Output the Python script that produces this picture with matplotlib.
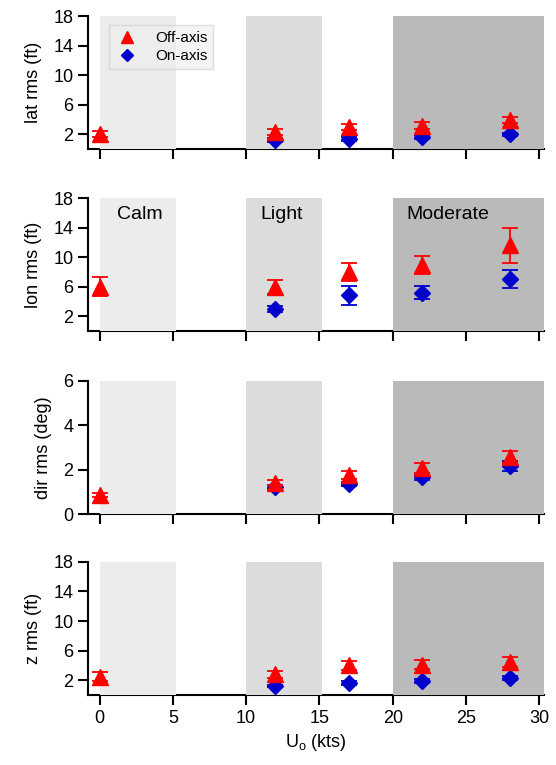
import matplotlib.pyplot as plt
from matplotlib.lines import Line2D

# wind speed (kts)
u0 = [0, 12, 17, 22, 28]

# lat rms (ft)
lat_off = [2.0, 2.3, 3.0, 3.2, 3.9]
lat_off_err = [0.4, 0.4, 0.4, 0.45, 0.4]
lat_on = [None, 1.2, 1.35, 1.6, 2.0]
lat_on_err = [0, 0.25, 0.25, 0.25, 0.25]

# lon rms (ft)
lon_off = [6.0, 6.0, 8.0, 9.0, 11.6]
lon_off_err = [1.3, 0.95, 1.2, 1.2, 2.4]
lon_on = [None, 2.95, 4.85, 5.2, 7.1]
lon_on_err = [0, 0.4, 1.3, 0.9, 1.2]

# dir rms (deg)
dir_off = [0.86, 1.41, 1.76, 2.06, 2.58]
dir_off_err = [0.1, 0.12, 0.2, 0.22, 0.28]
dir_on = [None, 1.23, 1.35, 1.65, 2.16]
dir_on_err = [0, 0.08, 0.1, 0.1, 0.22]

# z rms (ft)
z_off = [2.5, 2.8, 4.0, 4.1, 4.45]
z_off_err = [0.6, 0.5, 0.6, 0.6, 0.7]
z_on = [None, 1.2, 1.65, 1.87, 2.3]
z_on_err = [0, 0.15, 0.25, 0.25, 0.25]

panels = [
    ('lat rms (ft)', lat_off, lat_off_err, lat_on, lat_on_err, 18, [2, 6, 10, 14, 18]),
    ('lon rms (ft)', lon_off, lon_off_err, lon_on, lon_on_err, 18, [2, 6, 10, 14, 18]),
    ('dir rms (deg)', dir_off, dir_off_err, dir_on, dir_on_err, 6, [0, 2, 4, 6]),
    ('z rms (ft)', z_off, z_off_err, z_on, z_on_err, 18, [2, 6, 10, 14, 18]),
]

regions = [(0, 5.2, '#ececec'), (10, 15.2, '#dcdcdc'), (20, 30.3, '#bababa')]
region_labels = [('Calm', 1.2), ('Light', 11.0), ('Moderate', 20.9)]

plt.rcParams['font.family'] = ['Liberation Sans', 'DejaVu Sans']

fig = plt.figure(figsize=(5.56, 7.65), dpi=100)
bottoms = [0.805, 0.567, 0.328, 0.0915]
red = '#ff0000'
blue = '#0000cc'

for i, (lab, off, off_err, on, on_err, ymax, yt) in enumerate(panels):
    ax = fig.add_axes([0.158, bottoms[i], 0.820, 0.174])
    for x0, x1, c in regions:
        ax.axvspan(x0, x1, color=c, lw=0, zorder=3)
    ax.errorbar(u0, off, yerr=off_err, fmt='^', color=red, ms=11, capsize=6,
                elinewidth=1.3, capthick=1.3, zorder=5)
    xs = [x for x, v in zip(u0, on) if v is not None]
    ys = [v for v in on if v is not None]
    es = [e for e, v in zip(on_err, on) if v is not None]
    ax.errorbar(xs, ys, yerr=es, fmt='D', color=blue, ms=8, capsize=6,
                elinewidth=1.3, capthick=1.3, zorder=4)
    ax.set_xlim(-0.8, 30.3)
    ax.set_ylim(0, ymax)
    ax.set_yticks(yt)
    ax.set_xticks([0, 5, 10, 15, 20, 25, 30])
    ax.spines['top'].set_visible(False)
    ax.spines['right'].set_visible(False)
    ax.spines['left'].set_linewidth(1.5)
    ax.spines['bottom'].set_linewidth(1.5)
    ax.tick_params(direction='out', length=7, width=1.5, labelsize=13)
    ax.set_ylabel(lab, fontsize=13, labelpad=8)
    if i < 3:
        ax.tick_params(axis='x', labelbottom=False)
    else:
        ax.set_xlabel('U$_\\mathregular{o}$ (kts)', fontsize=13)
    if i == 0:
        handles = [Line2D([], [], ls='none', marker='^', color=red, ms=9, label='Off-axis'),
                   Line2D([], [], ls='none', marker='D', color=blue, ms=6, label='On-axis')]
        leg = ax.legend(handles=handles, loc='upper left', bbox_to_anchor=(0.03, 0.99),
                        fontsize=11, fancybox=False, framealpha=0.6, edgecolor='#cccccc',
                        facecolor='#eeeeee', handletextpad=1.0, borderpad=0.4,
                        handlelength=1.6, labelspacing=0.25)
        leg.set_zorder(6)
    if i == 1:
        for t, xpos in region_labels:
            ax.text(xpos, 15.8, t, fontsize=14, ha='left', va='center', zorder=6)

plt.savefig('out.png', dpi=100)
